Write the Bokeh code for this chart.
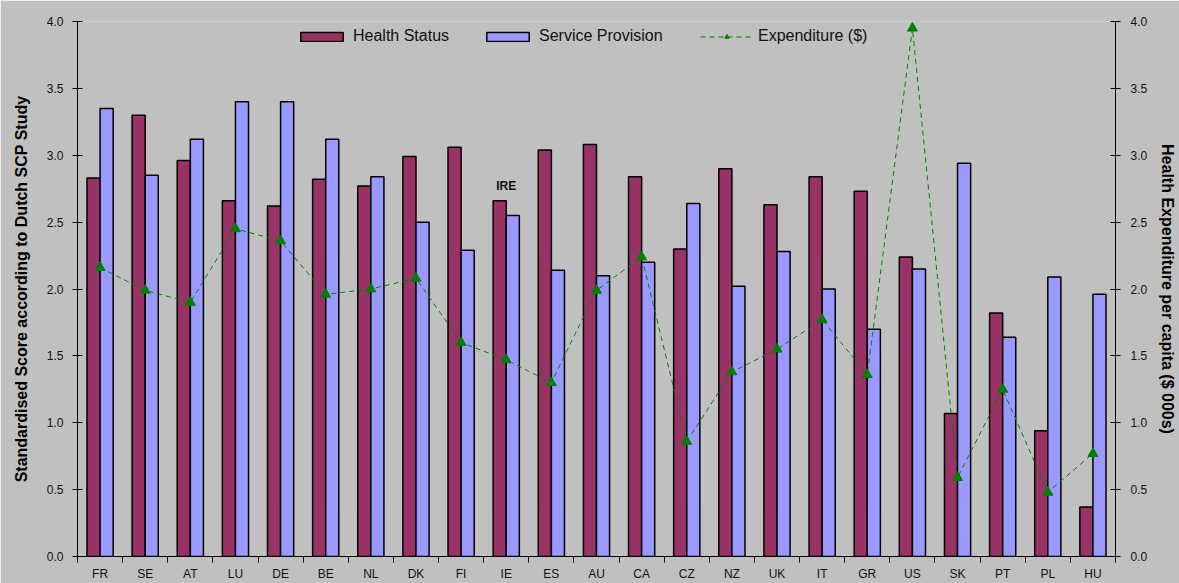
import numpy as np
from bokeh.plotting import figure
from bokeh.models import (Range1d, LinearAxis, FixedTicker, SingleIntervalTicker,
                          NumeralTickFormatter, CustomJSTickFormatter, Legend, LegendItem,
                          ColumnDataSource, Label)
from bokeh.embed import file_html
from bokeh.resources import INLINE

# ---- data ----
countries = ["FR", "SE", "AT", "LU", "DE", "BE", "NL", "DK", "FI", "IE", "ES", "AU",
             "CA", "CZ", "NZ", "UK", "IT", "GR", "US", "SK", "PT", "PL", "HU"]
health_status = [2.83, 3.30, 2.96, 2.66, 2.62, 2.82, 2.77, 2.99, 3.06, 2.66, 3.04, 3.08,
                 2.84, 2.30, 2.90, 2.63, 2.84, 2.73, 2.24, 1.07, 1.82, 0.94, 0.37]
service_provision = [3.35, 2.85, 3.12, 3.40, 3.40, 3.12, 2.84, 2.50, 2.29, 2.55, 2.14, 2.10,
                     2.20, 2.64, 2.02, 2.28, 2.00, 1.70, 2.15, 2.94, 1.64, 2.09, 1.96]
expenditure = [2.16, 1.99, 1.90, 2.45, 2.36, 1.96, 2.00, 2.08, 1.60, 1.47, 1.30, 1.99,
               2.24, 0.86, 1.38, 1.55, 1.77, 1.36, 3.95, 0.59, 1.25, 0.48, 0.77]
annotation_text = "IRE"
annotation_country = "IE"
annotation_y = 2.77

BG = "#C0C0C0"
HS_COLOR = "#993366"
SP_COLOR = "#9999FF"
EXP_COLOR = "#008000"
FONT = "Liberation Sans"

W, H = 1179, 583
BL, BR, BT, BB = 77, 64, 21, 27

n = len(countries)
centers = np.arange(n) + 0.5
bw = 0.29

src = ColumnDataSource(dict(
    xh=centers - bw / 2, xs=centers + bw / 2, xc=centers,
    hs=health_status, sp=service_provision, ex=expenditure))

p = figure(width=W, height=H, output_backend="svg", toolbar_location=None,
           x_range=Range1d(0, n), y_range=Range1d(0, 4),
           min_border_left=BL, min_border_right=BR, min_border_top=BT, min_border_bottom=BB)
p.background_fill_color = BG
p.border_fill_color = BG
p.outline_line_color = None
p.xgrid.visible = False
p.ygrid.visible = False

p.extra_y_ranges = {"exp": Range1d(0, 4)}

r_hs = p.vbar(x="xh", top="hs", width=bw, source=src, fill_color=HS_COLOR,
              line_color="black", line_width=1.5)
r_sp = p.vbar(x="xs", top="sp", width=bw, source=src, fill_color=SP_COLOR,
              line_color="black", line_width=1.5)
r_line = p.line(x="xc", y="ex", source=src, y_range_name="exp", line_color=EXP_COLOR,
                line_width=1, line_dash="5 4")
r_pts = p.scatter(x="xc", y="ex", source=src, y_range_name="exp", marker="triangle",
                  size=10, fill_color=EXP_COLOR, line_color=EXP_COLOR)

# x axis: labels at centres, ticks at category boundaries
xa = p.xaxis[0]
xa.ticker = FixedTicker(ticks=list(centers), minor_ticks=list(np.arange(n + 1)))
xa.formatter = CustomJSTickFormatter(args=dict(labels=countries),
                                     code="return labels[Math.floor(tick)]")
xa.major_tick_in = 0
xa.major_tick_out = 0
xa.minor_tick_in = 0
xa.minor_tick_out = 6
xa.minor_tick_line_color = "black"
xa.axis_line_color = "black"
xa.major_label_standoff = 4
xa.major_label_text_font = FONT
xa.major_label_text_font_size = "12px"
xa.major_label_text_color = "#111111"

def style_y(ax, title):
    ax.ticker = SingleIntervalTicker(interval=0.5, num_minor_ticks=0)
    ax.formatter = NumeralTickFormatter(format="0.0")
    ax.major_tick_in = 5
    ax.major_tick_out = 5
    ax.minor_tick_line_color = None
    ax.axis_line_color = "black"
    ax.major_tick_line_color = "black"
    ax.major_label_text_font = FONT
    ax.major_label_text_font_size = "12px"
    ax.major_label_text_color = "#111111"
    ax.axis_label = title
    ax.axis_label_text_font = FONT
    ax.axis_label_text_font_size = "16px"
    ax.axis_label_text_font_style = "bold"
    ax.axis_label_text_color = "black"

ya = p.yaxis[0]
style_y(ya, "Standardised Score according to Dutch SCP Study")
ya.major_label_standoff = 9
ya.axis_label_standoff = 14

ra = LinearAxis(y_range_name="exp")
style_y(ra, "Health Expenditure per capita ($ 000s)")
ra.major_label_standoff = 10
ra.axis_label_standoff = 9
p.add_layout(ra, "right")

# annotation
ie_x = centers[countries.index(annotation_country)]
p.add_layout(Label(x=ie_x, y=annotation_y, text=annotation_text, text_align="center",
                   text_baseline="middle", text_font=FONT, text_font_size="12px",
                   text_font_style="bold", text_color="#111111"))

# legend: three single-item legends placed along the top
frame_h = H - BT - BB
leg_h = 16
leg_y = frame_h - 8 - leg_h
legend_specs = [
    ("Health Status", [r_hs], 295),
    ("Service Provision", [r_sp], 481),
    ("Expenditure ($)", [r_line, r_pts], 700),
]
for label, rends, page_x in legend_specs:
    lg = Legend(items=[LegendItem(label=label, renderers=rends)],
                location=(page_x - BL, leg_y))
    lg.background_fill_alpha = 0
    lg.border_line_color = None
    lg.label_text_font = FONT
    lg.label_text_font_size = "16px"
    lg.label_text_color = "#111111"
    lg.glyph_width = 53
    lg.glyph_height = 11
    lg.label_standoff = 5
    lg.padding = 0
    lg.margin = 0
    p.add_layout(lg, "center")

open("out.html", "w").write(file_html(p, INLINE))
